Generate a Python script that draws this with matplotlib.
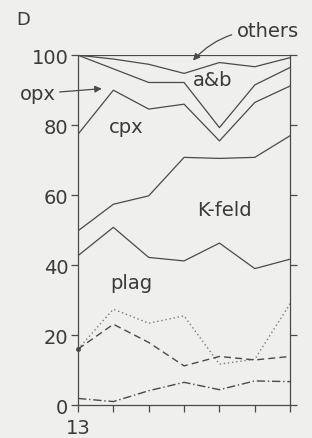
import matplotlib
matplotlib.use('Agg')
from matplotlib import pyplot as plt

# sample positions along the traverse (only the first one is labelled)
x = [0, 1, 2, 3, 4, 5, 6]
x_labels = ['13', '', '', '', '', '', '']

# cumulative boundaries of the stacked mineral modes (%)
top = [100, 100, 100, 100, 100, 100, 100]
others = [100, 98.9, 97.4, 94.8, 97.9, 96.7, 99.3]
ab = [100, 96.1, 92.2, 92.2, 79.3, 91.5, 96.5]
opx = [77.4, 90.0, 84.6, 86.0, 75.5, 86.5, 91.2]
cpx = [49.8, 57.4, 59.8, 70.8, 70.5, 70.8, 77.0]
kfeld = [42.7, 50.8, 42.2, 41.2, 46.3, 39.0, 41.7]

# separate curves near the bottom
dotted = [16.0, 27.4, 23.4, 25.5, 11.7, 13.1, 29.0]
dashed = [16.0, 23.1, 17.9, 11.2, 13.9, 12.9, 13.9]
dashdot = [1.9, 1.0, 4.1, 6.5, 4.4, 6.9, 6.7]

bg = '#efefed'
ink = '#4a4a4a'

fig = plt.figure(figsize=(3.12, 4.39), dpi=100, facecolor=bg)
ax = fig.add_axes([0.25, 0.075, 0.68, 0.797], facecolor=bg)

for ys in (top, others, ab, opx, cpx, kfeld):
    ax.plot(x, ys, color=ink, lw=0.9)
ax.plot(x, dotted, color='#7a7a7a', lw=1.0, ls=(0, (1, 2)))
ax.plot(x, dashed, color=ink, lw=1.0, ls=(0, (5, 3)))
ax.plot(x, dashdot, color=ink, lw=1.0, ls=(0, (6, 2, 1, 2)))
ax.plot([x[0]], [dotted[0]], 'o', color=ink, ms=2.5, clip_on=False)

ax.set_xlim(0, 6)
ax.set_ylim(0, 100)
ax.set_xticks(x)
ax.set_xticklabels(x_labels)
ax.set_yticks([0, 20, 40, 60, 80, 100])
ax.tick_params(colors=ink, labelcolor='#3a3a3a', labelsize=14, width=0.9,
               length=5, direction='out', right=True, pad=2)
ax.tick_params(axis='x', labelsize=14, pad=4)
for s in ('left', 'right', 'bottom'):
    ax.spines[s].set_color(ink)
    ax.spines[s].set_linewidth(0.9)
ax.spines['top'].set_visible(False)

txt = dict(color='#3a3a3a', fontsize=14, ha='center', va='center')
ax.text(3.8, 93.0, 'a&b', **txt)
ax.text(1.35, 79.5, 'cpx', **txt)
ax.text(4.15, 56.0, 'K-feld', **txt)
ax.text(1.5, 35.0, 'plag', **txt)

fig.text(0.075, 0.955, 'D', color='#3a3a3a', fontsize=13, ha='center', va='center')

# labels with arrows
ax.annotate('others', xy=(3.2, 97.9), xytext=(4.5, 107.0), color='#3a3a3a',
            fontsize=14, ha='left', va='center', annotation_clip=False,
            arrowprops=dict(arrowstyle='-|>', color=ink, lw=0.9,
                            connectionstyle='arc3,rad=0.25', mutation_scale=10))
ax.annotate('opx', xy=(0.75, 90.5), xytext=(-1.65, 89.0), color='#3a3a3a',
            fontsize=14, ha='left', va='center', annotation_clip=False,
            arrowprops=dict(arrowstyle='-|>', color=ink, lw=0.9,
                            mutation_scale=10, shrinkA=1))

fig.savefig('out.png', dpi=100, facecolor=bg)
